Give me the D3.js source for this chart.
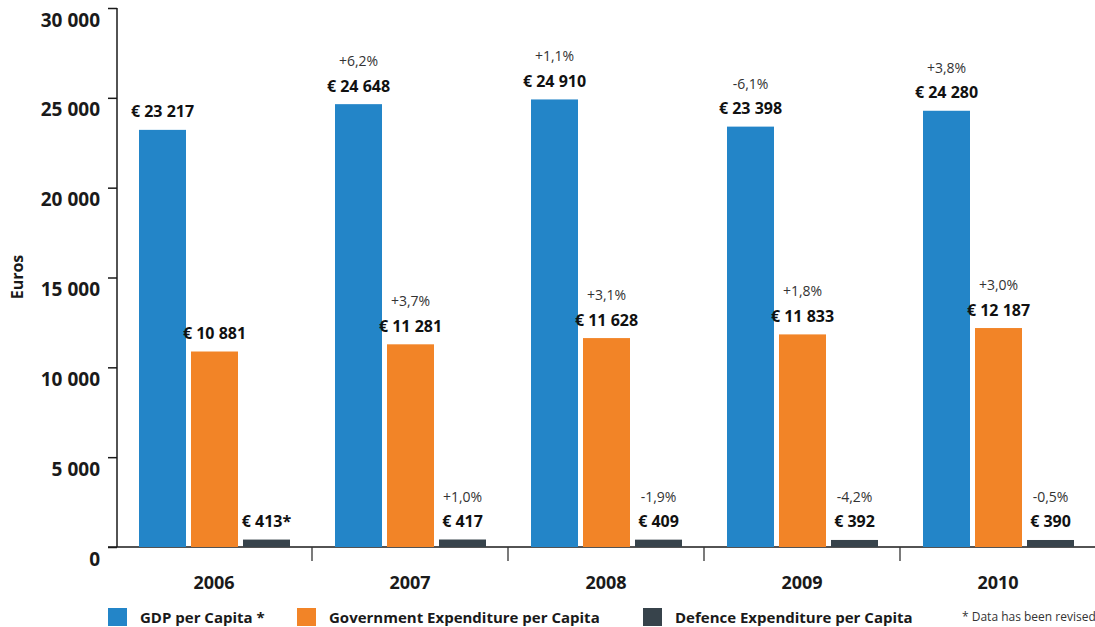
<!DOCTYPE html>
<html><head><meta charset="utf-8">
<script src="https://cdn.jsdelivr.net/npm/d3@7"></script>
<style>
html,body{margin:0;padding:0;background:#fff;}
svg{display:block;font-family:"Open Sans",sans-serif;}
</style></head>
<body>
<svg id="chart" width="1095" height="627"></svg>
<script>
const years = ["2006","2007","2008","2009","2010"];
const seriesNames = ["GDP per Capita *","Government Expenditure per Capita","Defence Expenditure per Capita"];
const seriesColors = ["#2385c8","#f28427","#37434b"];
const gdp = [23217,24648,24910,23398,24280];
const gov = [10881,11281,11628,11833,12187];
const def = [413,417,409,392,390];
const gdpChange = ["","+6,2%","+1,1%","-6,1%","+3,8%"];
const govChange = ["","+3,7%","+3,1%","+1,8%","+3,0%"];
const defChange = ["","+1,0%","-1,9%","-4,2%","-0,5%"];
const valueSuffix = [["","","","",""],["","","","",""],["*","","","",""]];
const yTicks = [0,5000,10000,15000,20000,25000,30000];

const series = [gdp,gov,def];
const changes = [gdpChange,govChange,defChange];

const svg = d3.select("#chart");
const fmt = v => d3.format(",")(v).replace(/,/g," ");

const y = d3.scaleLinear().domain([0,30000]).range([547,8]);
const x0 = d3.scaleBand().domain(years).range([116,1096]).padding(0);
const x1 = d3.scaleBand().domain([0,1,2]).range([23,174]).paddingInner(5/52).paddingOuter(0);

// y axis
const yAxis = d3.axisLeft(y).tickValues(yTicks).tickSize(9).tickFormat(fmt);
const ga = svg.append("g").attr("transform","translate(117,0)").call(yAxis);
ga.select(".domain").remove();
ga.selectAll(".tick line").attr("stroke","#1a1a1a").attr("stroke-width",1.5);
ga.selectAll(".tick text").attr("x",-17).attr("dy",null).attr("y",18)
  .attr("font-size",19).attr("font-weight",700).attr("fill","#1a1a1a")
  .attr("font-family","'Open Sans',sans-serif");
svg.append("line").attr("x1",117).attr("x2",117).attr("y1",y(30000)).attr("y2",y(0))
  .attr("stroke","#1a1a1a").attr("stroke-width",1.5);

// baseline
svg.append("line").attr("x1",108).attr("x2",1095).attr("y1",y(0)).attr("y2",y(0))
  .attr("stroke","#1a1a1a").attr("stroke-width",1.5);

// category separators
svg.selectAll("line.sep").data(years.slice(1)).enter().append("line")
  .attr("class","sep")
  .attr("x1",d=>x0(d)).attr("x2",d=>x0(d))
  .attr("y1",y(0)).attr("y2",y(0)+14)
  .attr("stroke","#333").attr("stroke-width",1.3);

// year labels
svg.selectAll("text.year").data(years).enter().append("text")
  .attr("class","year")
  .attr("x",d=>x0(d)+x0.bandwidth()/2).attr("y",589)
  .attr("text-anchor","middle").attr("font-size",18).attr("font-weight",700).attr("fill","#1a1a1a")
  .text(d=>d);

// bars
series.forEach((vals,si)=>{
  const g = svg.append("g");
  const data = years.map((yr,i)=>({yr,i,v:vals[i]}));
  g.selectAll("rect").data(data).enter().append("rect")
    .attr("x",d=>x0(d.yr)+x1(si)).attr("width",x1.bandwidth())
    .attr("y",d=>y(d.v)).attr("height",d=>y(0)-y(d.v))
    .attr("fill",seriesColors[si]);
  g.selectAll("text.val").data(data).enter().append("text")
    .attr("class","val")
    .attr("x",d=>x0(d.yr)+x1(si)+x1.bandwidth()/2).attr("y",d=>y(d.v)-12.5)
    .attr("text-anchor","middle").attr("font-size",16).attr("font-weight",700).attr("fill","#111")
    .text(d=>"€ "+fmt(d.v)+valueSuffix[si][d.i]);
  g.selectAll("text.chg").data(data.filter(d=>changes[si][d.i]!=="")).enter().append("text")
    .attr("class","chg")
    .attr("x",d=>x0(d.yr)+x1(si)+x1.bandwidth()/2).attr("y",d=>y(d.v)-38)
    .attr("text-anchor","middle").attr("font-size",14).attr("fill","#333")
    .text(d=>changes[si][d.i]);
});

// y title
svg.append("text").attr("transform","translate(23,277) rotate(-90)")
  .attr("text-anchor","middle").attr("font-size",16).attr("font-weight",700).attr("fill","#1a1a1a")
  .text("Euros");

// legend
const legX = [108,297,643];
const lg = svg.selectAll("g.leg").data(seriesNames).enter().append("g")
  .attr("class","leg").attr("transform",(d,i)=>`translate(${legX[i]},608)`);
lg.append("rect").attr("width",19).attr("height",18).attr("fill",(d,i)=>seriesColors[i]);
lg.append("text").attr("x",32).attr("y",15).attr("font-size",15).attr("font-weight",700).attr("fill","#1a1a1a")
  .text(d=>d);

svg.append("text").attr("x",962).attr("y",621).attr("font-size",12).attr("fill","#333")
  .text("* Data has been revised");
</script>
</body></html>
